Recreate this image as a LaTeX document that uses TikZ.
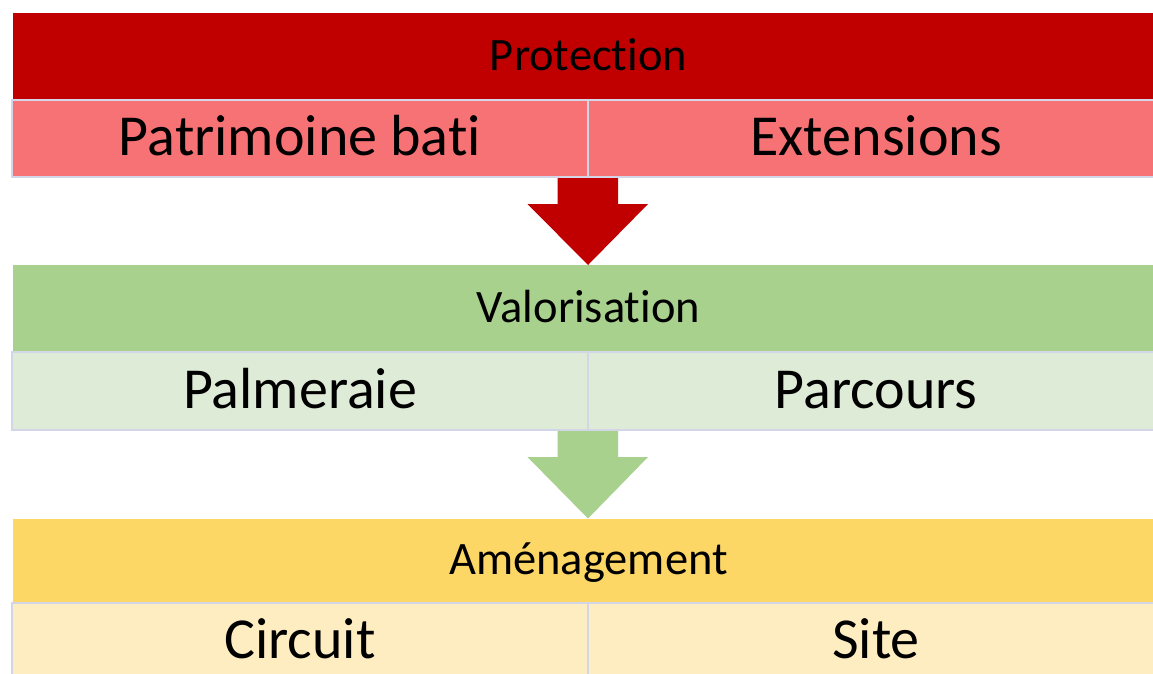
\documentclass[tikz,border=0pt]{standalone}
\usepackage{fontspec}
\setmainfont{Carlito}[RawFeature={-liga;-clig;-calt;-dlig}]
\usetikzlibrary{calc}
\definecolor{protred}{HTML}{C00000}
\definecolor{protlight}{HTML}{F77274}
\definecolor{valgreen}{HTML}{A9D18E}
\definecolor{vallight}{HTML}{DEEBD7}
\definecolor{amyellow}{HTML}{FDD766}
\definecolor{amlight}{HTML}{FFEDC2}
\definecolor{gridcol}{HTML}{D2D6E6}
\tikzset{
  band/.style={rectangle, inner sep=0pt, outer sep=0pt, minimum width=1151pt,
    font=\fontsize{46.5}{56}\selectfont, text height=28pt, text depth=0pt},
  cell/.style={rectangle, inner sep=0pt, outer sep=0pt, minimum width=576pt, minimum height=77pt,
    draw=gridcol, line width=2pt,
    font=\fontsize{58}{70}\selectfont, text height=34pt, text depth=0pt},
}
\begin{document}
\begin{tikzpicture}[x=1pt,y=-1pt]
\useasboundingbox (0,0) rectangle (1153,673);
\fill[white] (0,0) rectangle (1153,673);
\clip (0,0) rectangle (1153,673);
% Protection
\node[band, fill=protred, minimum height=87.5pt] (prot) at (588.5,56.25) {Protection};
\node[cell, fill=protlight] (patri) at (300,138.5) {Patrimoine bati};
\node[cell, fill=protlight] (ext) at (876,138.5) {Extensions};
% Valorisation
\node[band, fill=valgreen, minimum height=87pt] (valo) at (588.5,308.5) {Valorisation};
\node[cell, fill=vallight, minimum height=78pt] (palm) at (300,391) {Palmeraie};
\node[cell, fill=vallight, minimum height=78pt] (parc) at (876,391) {Parcours};
% Amenagement
\node[band, fill=amyellow, minimum height=84.5pt] (amen) at (588.5,560.75) {Aménagement};
\node[cell, fill=amlight] (circ) at (300,641.5) {Circuit};
\node[cell, fill=amlight] (site) at (876,641.5) {Site};
% arrows
\coordinate (a1) at ($(patri.south east)+(0,1)$);
\coordinate (t1) at (valo.north -| a1);
\fill[protred] (a1) ++(-30.5,0) -- ++(0,26) -- ++(-30,0) -- (t1) -- ++(60,-61) -- ++(-30,0) -- ++(0,-26) -- cycle;
\coordinate (a2) at ($(palm.south east)+(0,1)$);
\coordinate (t2) at (amen.north -| a2);
\fill[valgreen] (a2) ++(-30.5,0) -- ++(0,26) -- ++(-30,0) -- (t2) -- ++(60,-61.5) -- ++(-30,0) -- ++(0,-26) -- cycle;
\end{tikzpicture}
\end{document}
